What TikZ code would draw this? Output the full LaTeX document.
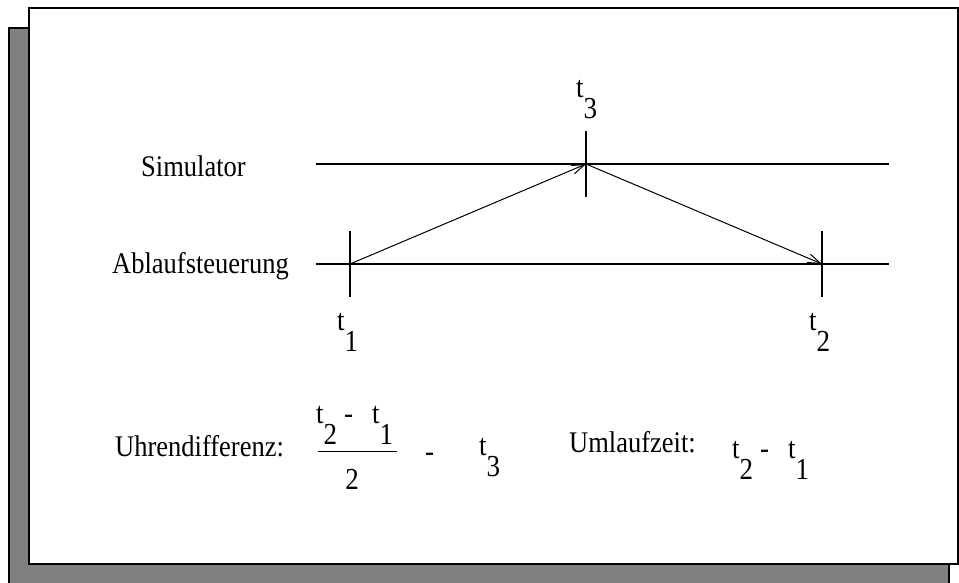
\documentclass[tikz,border=0pt]{standalone}
\usepackage{fontspec}
\setmainfont{Liberation Serif}
\usetikzlibrary{arrows.meta}
\newcommand{\tall}[1]{\scalebox{1}[1.13]{#1}}
\newcommand{\tsub}[1]{t\raisebox{-0.72em}{#1}}

\begin{document}
\begin{tikzpicture}[x=1pt, y=-1pt, every node/.style={font=\fontsize{26.5}{30}\selectfont, inner sep=0pt, anchor=base west},
  lbl/.style={font=\fontsize{27}{30}\selectfont},
  timeline/.style={line width=1.1pt},
  tickline/.style={line width=1.1pt},
  msg/.style={line width=1pt, -{Straight Barb[length=13pt,width=9pt]}}]
\useasboundingbox (0,0) rectangle (959,582);
\draw[line width=1.5pt, fill=gray] (9,28) rectangle (949,600);
\draw[line width=1.5pt, fill=white] (29,8) rectangle (958,564);

\coordinate (s0) at (316,164); \coordinate (s1) at (889,164);
\coordinate (a0) at (316,264); \coordinate (a1) at (889,264);
\coordinate (p1) at (350,264); \coordinate (p2) at (822,264); \coordinate (p3) at (586,164);

\node (sim) at (141,176) {\tall{Simulator}};
\node (abl) at (112,273) {\tall{Ablaufsteuerung}};
\draw[timeline] (s0) -- (s1);
\draw[timeline] (a0) -- (a1);
\foreach \p in {p1,p2,p3}
  \draw[tickline] (\p) ++(0,-33) -- ++(0,66);
\draw[msg] (p1) -- (p3);
\draw[msg] (p3) -- (p2);

\node[lbl] (l1) at (337,330) {\tall{\tsub{1}}};
\node[lbl] (l2) at (809,330) {\tall{\tsub{2}}};
\node[lbl] (l3) at (576,97) {\tall{\tsub{3}}};

\node (uhr) at (115,456) {\tall{Uhrendifferenz:}};
\node[lbl] (num) at (316,423) {\tall{\tsub{2}\kern7pt-\kern19pt\tsub{1}}};
\draw[line width=1pt] (318,451) -- (397,451);
\node[lbl, anchor=base] (den) at (352,489) {\tall{2}};
\node[lbl] (minus) at (425,461) {\tall{-}};
\node[lbl] (e3) at (479,455) {\tall{\tsub{3}}};
\node (uml) at (569,452) {\tall{Umlaufzeit:}};
\node[lbl] (rt) at (732,458) {\tall{\tsub{2}\kern7pt-\kern19pt\tsub{1}}};
\end{tikzpicture}
\end{document}
